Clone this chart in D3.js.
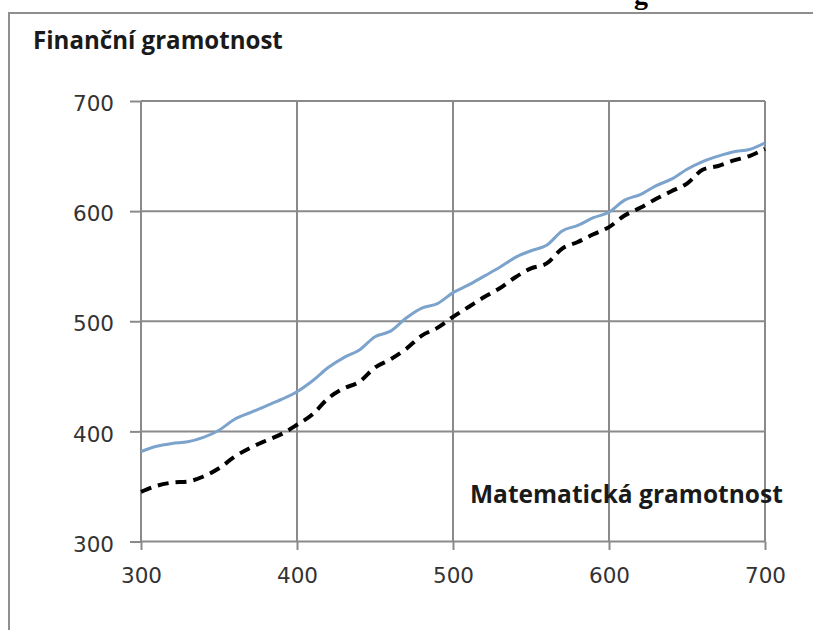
<!DOCTYPE html>
<html>
<head>
<meta charset="utf-8">
<script src="https://cdn.jsdelivr.net/npm/d3@7"></script>
<style>
  html, body { margin: 0; padding: 0; background: #fff; }
  svg { display: block; }
</style>
</head>
<body>
<svg id="chart" width="813" height="630"></svg>
<script>
// ---- data ----
const mathScores = [300,310,320,330,340,350,360,370,380,390,400,410,420,430,440,450,460,470,480,490,500,
                    510,520,530,540,550,560,570,580,590,600,610,620,630,640,650,660,670,680,690,700];
const seriesBlue = [381.6,386.5,389,390.5,394.5,401,411,417,423,429,436,446,458,467,474,486,491,503,512,516,526,
                    533,541,549,558,564,569,582,587,594,599,610,615,623,629,638,645,650,654,656,662];
const seriesBlack = [345,350.5,353.5,354.5,359,366.5,377,385,391.5,397.5,406,415.5,430,439,445,458,465.5,475,487,494,504,
                     513,522,530,540,548,552.5,566,572,579,585.5,596,603,611,618,625,637.5,641,646,650,656.5];
const xTicks = [300,400,500,600,700];
const yTicks = [300,400,500,600,700];
const yTitle = "Finanční gramotnost";
const xTitle = "Matematická gramotnost";
const cutTitleTail = "g";

// ---- layout ----
const svg = d3.select("#chart");
const x = d3.scaleLinear().domain([300,700]).range([141,765]);
const y = d3.scaleLinear().domain([300,700]).range([541.5,101]);
const gridColor = "#8a8a8a";

// outer frame (left + top edges)
svg.append("path")
  .attr("d", "M9,630 V13 H813")
  .attr("fill", "none")
  .attr("stroke", "#8f8f8f")
  .attr("stroke-width", 2);

// cut-off heading fragment above the frame
svg.append("text")
  .attr("x", 634).attr("y", 4)
  .attr("font-family", "Liberation Serif, serif")
  .attr("font-weight", 700)
  .attr("font-size", 28)
  .attr("fill", "#000")
  .text(cutTitleTail);

// gridlines
const grid = svg.append("g");
grid.selectAll("line.h").data(yTicks).join("line")
  .attr("x1", x(300)).attr("x2", x(700))
  .attr("y1", d => y(d)).attr("y2", d => y(d))
  .attr("stroke", gridColor).attr("stroke-width", 2);
grid.selectAll("line.v").data(xTicks).join("line")
  .attr("y1", y(300)).attr("y2", y(700))
  .attr("x1", d => x(d)).attr("x2", d => x(d))
  .attr("stroke", gridColor).attr("stroke-width", 2);

// axes
const tickFont = "DejaVu Sans, Verdana, sans-serif";
const yAxis = svg.append("g")
  .attr("transform", `translate(${x(300)},0)`)
  .call(d3.axisLeft(y).tickValues(yTicks).tickSize(11).tickPadding(16).tickFormat(d3.format("d")));
const xAxis = svg.append("g")
  .attr("transform", `translate(0,${y(300)})`)
  .call(d3.axisBottom(x).tickValues(xTicks).tickSize(8.5).tickPadding(18).tickFormat(d3.format("d")));
[yAxis, xAxis].forEach(a => {
  a.select(".domain").remove();
  a.selectAll(".tick line").attr("stroke", gridColor).attr("stroke-width", 2);
  a.selectAll(".tick text")
    .attr("font-family", tickFont)
    .attr("font-size", 21.5)
    .attr("fill", "#333");
});
yAxis.selectAll(".tick text").attr("dy", "0.45em");

// series lines
const line = d3.line()
  .x((d, i) => x(mathScores[i]))
  .y(d => y(d))
  .curve(d3.curveMonotoneX);

svg.append("path")
  .datum(seriesBlue)
  .attr("d", line)
  .attr("fill", "none")
  .attr("stroke", "#7ba3cc")
  .attr("stroke-width", 3)
  .attr("stroke-linejoin", "round");

svg.append("path")
  .datum(seriesBlack)
  .attr("d", line)
  .attr("fill", "none")
  .attr("stroke", "#000")
  .attr("stroke-width", 4)
  .attr("stroke-dasharray", "11,7")
  .attr("stroke-linejoin", "round");

// axis titles (bold), sized to match the reference widths
function fitText(sel, target) {
  const base = 22;
  const w = sel.node().getComputedTextLength();
  if (w > 0) sel.attr("font-size", base * target / w);
}
const t1 = svg.append("text")
  .attr("x", 33).attr("y", 49)
  .attr("font-family", "Open Sans, sans-serif")
  .attr("font-weight", 700)
  .attr("font-size", 22)
  .attr("fill", "#1a1a1a")
  .text(yTitle);
fitText(t1, 250);

const t2 = svg.append("text")
  .attr("x", 470).attr("y", 503)
  .attr("font-family", "Open Sans, sans-serif")
  .attr("font-weight", 700)
  .attr("font-size", 22)
  .attr("fill", "#1a1a1a")
  .text(xTitle);
fitText(t2, 313);
</script>
</body>
</html>
